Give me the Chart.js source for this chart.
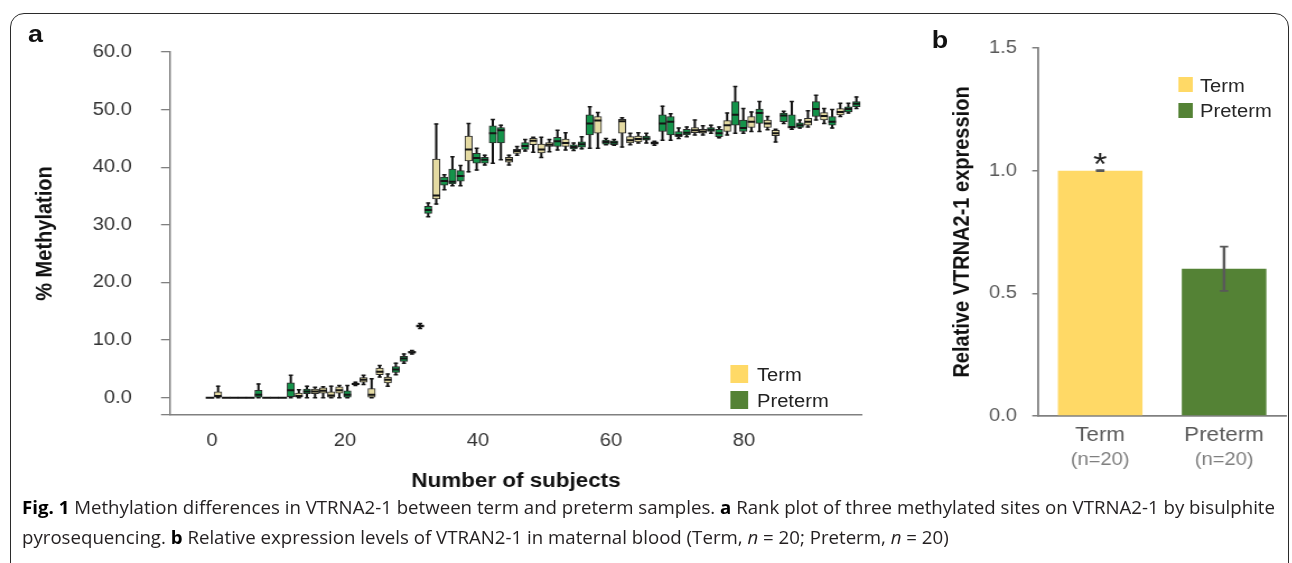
<!DOCTYPE html>
<html>
<head>
<meta charset="utf-8">
<script src="https://cdn.jsdelivr.net/npm/chart.js@4.4.1/dist/chart.umd.min.js"></script>
<style>
html,body{margin:0;padding:0;background:#fff;}
body{width:1292px;height:563px;overflow:hidden;position:relative;}
#frame{position:absolute;left:10px;top:13px;width:1279px;height:620px;border:1.5px solid #2b2b2b;border-radius:14px;box-sizing:border-box;}
#stage{position:absolute;left:0;top:0;width:1154px;height:500px;transform:scaleX(1.12);transform-origin:0 0;font-family:"Liberation Sans",Arial,sans-serif;}
#stage canvas{position:absolute;top:0;}
#ca{left:0;}
#cb{left:800px;}
.plabel{position:absolute;font-weight:bold;font-size:24px;line-height:24px;color:#111;}
.sw{position:absolute;}
.lt{position:absolute;font-size:18px;line-height:18px;white-space:nowrap;color:#222;}
#caption{position:absolute;left:22px;top:492px;font-family:"Open Sans",sans-serif;font-size:18px;line-height:30px;color:#231f20;white-space:nowrap;transform-origin:0 0;}
#caption b{color:#000;}
#caption span{display:inline-block;}
</style>
</head>
<body>
<div id="frame"></div>
<div id="stage">
  <canvas id="ca" width="790" height="500"></canvas>
  <canvas id="cb" width="354" height="500"></canvas>
  <div class="plabel" style="left:25px;top:22px;">a</div>
  <div class="plabel" style="left:832px;top:28px;">b</div>
  <div id="legA"></div>
  <div id="legB"></div>
</div>
<div id="caption"><div><span id="cap1"><b>Fig. 1</b> Methylation differences in VTRNA2-1 between term and preterm samples. <b>a</b> Rank plot of three methylated sites on VTRNA2-1 by bisulphite</span></div><div><span id="cap2">pyrosequencing. <b>b</b> Relative expression levels of VTRAN2-1 in maternal blood (Term, <i>n</i> = 20; Preterm, <i>n</i> = 20)</span></div></div>
<script>
// ---------- Panel a data: rank plot, one box per subject ----------
const subjects = [1,2,3,4,5,6,7,8,9,10,11,12,13,14,15,16,17,18,19,20,21,22,23,24,25,26,27,28,29,30,31,32,33,34,35,36,37,38,39,40,41,42,43,44,45,46,47,48,49,50,51,52,53,54,55,56,57,58,59,60,61,62,63,64,65,66,67,68,69,70,71,72,73,74,75,76,77,78,79,80,81];
const group = ['T','T','T','P','T','P','P','T','P','T',
               'P','T','P','T','T','T','T','P','T','T',
               'T','T','T','P','P','T','T','P','T','P',
               'P','P','T','P','P','P','P','T','T','P',
               'T','T','T','P','T','P','P','P','T','P',
               'P','T','T','T','P','P','P','P','P','P',
               'T','T','P','P','T','P','P','T','P','T',
               'T','P','P','P','T','P','T','P','T','P',
               'P'];
const wMin = [0,0,0,0,0,0,0,0,0,0,
              0,0,0,0,0,0,0,0,2.1,2.3,
              0,3.6,2.0,4.0,6.0,7.6,12.0,31.4,33.6,36.1,
              36.8,36.8,39.2,39.5,40.4,40.7,41.3,40.4,42.1,42.8,
              42.6,41.7,42.7,43.0,43.0,42.9,43.2,43.3,43.3,43.9,
              43.8,43.5,43.9,44.2,44.2,43.8,44.7,44.7,45.0,45.3,
              45.6,45.6,45.9,45.1,45.6,45.9,45.9,46.2,46.2,46.5,
              44.4,47.6,46.6,46.8,47.0,48.2,47.6,46.8,48.8,49.4,
              50.2];
const q1 = [0,0,0,0,0,0,0.1,0,0,0,
            0.2,0,0.7,0.7,0.8,0,0.8,0,2.25,2.7,
            0,4.0,2.55,4.4,6.3,7.75,12.25,32.0,34.5,36.9,
            37.1,37.6,41.1,40.7,40.7,44.2,44.2,40.9,42.4,43.1,
            43.9,42.5,43.6,43.6,43.6,43.2,43.5,45.6,45.9,44.0,
            43.9,45.9,44.2,44.4,44.7,44.0,46.2,45.6,45.3,45.6,
            46.0,45.9,46.2,45.3,46.2,47.3,46.2,46.9,47.6,46.9,
            45.5,47.9,46.8,46.9,47.3,48.8,48.2,47.3,49.1,49.6,
            50.5];
const med = [0,0.3,0,0,0,0,0.5,0,0,0,
             1.3,0.3,1.1,1.1,1.2,0.4,1.3,0.5,2.4,3.1,
             0.5,4.5,3.1,4.9,6.8,7.9,12.45,32.6,35.1,37.6,
             37.5,38.5,43.1,41.6,41.3,45.9,46.4,41.3,42.8,43.7,
             44.6,43.1,43.9,44.5,44.2,43.5,44.0,47.6,48.1,44.4,
             44.3,48.0,44.7,44.9,45.0,44.2,47.6,47.9,45.6,46.0,
             46.4,46.2,46.5,45.9,47.3,49.1,46.8,47.9,49.4,47.6,
             45.9,49.0,47.0,47.3,47.9,50.1,48.9,47.9,49.6,50.1,
             51.0];
const q3 = [0,1.0,0,0,0,0,1.3,0,0,0,
            2.6,0.8,1.5,1.5,1.7,1.0,1.9,1.2,2.55,3.5,
            1.6,5.15,3.6,5.4,7.2,8.05,12.65,33.2,41.4,38.3,
            39.7,39.4,45.4,42.4,41.7,47.2,46.9,41.7,43.1,44.3,
            45.0,44.0,44.3,45.2,44.9,43.9,44.4,49.1,48.8,44.7,
            44.6,48.3,45.3,45.4,45.4,44.4,49.1,48.8,46.2,46.6,
            46.9,46.6,46.9,46.6,48.1,51.4,48.2,48.8,50.1,48.2,
            46.4,49.4,49.1,47.7,48.5,51.4,49.5,48.8,50.2,50.5,
            51.4];
const wMax = [0,2.0,0,0,0,0,2.4,0,0,0,
              3.9,1.4,2.0,1.8,1.9,2.0,2.1,2.1,2.7,3.9,
              3.3,5.6,4.1,6.0,7.6,8.2,12.9,33.8,47.5,38.7,
              41.8,40.3,47.6,43.3,42.1,48.3,47.3,42.1,43.6,44.8,
              45.2,45.2,44.8,46.4,46.0,44.2,45.3,50.5,49.5,45.0,
              44.8,48.6,45.9,46.0,45.9,44.5,50.6,49.3,46.8,47.0,
              48.2,47.2,47.3,47.0,49.4,54.0,50.2,49.6,51.4,48.8,
              46.6,49.7,51.4,48.2,49.8,52.5,50.2,50.0,51.1,51.1,
              52.2];
const xTicksA = [0,20,40,60,80];
const yTicksA = [0,10,20,30,40,50,60];
const legendNames = ['Term','Preterm'];

// ---------- Panel b data ----------
const bCats = ['Term','Preterm'];
const bN = ['(n=20)','(n=20)'];
const bVals = [1.0, 0.6];
const bErr = [0.002, 0.09];
const bSig = ['*',''];
const yTicksB = [0, 0.5, 1.0, 1.5];

// ---------- styles / layout ----------
const S = 1.12; // horizontal stretch of the figure
const FONT = '"Liberation Sans", Arial, sans-serif';
Chart.defaults.font.family = FONT;
const TAN = '#E4DAA2', GREEN = '#14934A';
const YEL = '#FFD966', DGREEN = '#548235';

// ---------- build panel a datasets ----------
const whiskerData = [], boxT = [], boxP = [], medData = [], capData = [];
subjects.forEach((s, k) => {
  if (wMax[k] > wMin[k]) {
    whiskerData.push({x: s, y: [wMin[k], wMax[k]]});
    capData.push({x: s, y: wMax[k]});
    capData.push({x: s, y: wMin[k]});
  }
  if (q3[k] > q1[k]) (group[k] === 'T' ? boxT : boxP).push({x: s, y: [q1[k], q3[k]]});
  medData.push({x: s, y: med[k]});
});

new Chart(document.getElementById('ca'), {
  type: 'bar',
  data: {
    datasets: [
      {type:'bar', label:'whisker', data: whiskerData, xAxisID:'x', yAxisID:'y', grouped:false,
       barThickness: 1.5 / S, backgroundColor:'#111', borderWidth:0, order:4},
      {type:'bar', label:'Term', data: boxT, xAxisID:'x', yAxisID:'y', grouped:false,
       barThickness: 7.3 / S, backgroundColor: TAN, borderColor:'#2a2a2a', borderWidth:1, borderSkipped:false, order:3},
      {type:'bar', label:'Preterm', data: boxP, xAxisID:'x', yAxisID:'y', grouped:false,
       barThickness: 7.3 / S, backgroundColor: GREEN, borderColor:'#2a2a2a', borderWidth:1, borderSkipped:false, order:3},
      {type:'scatter', label:'median', data: medData, xAxisID:'x', yAxisID:'y',
       pointStyle:'line', pointRadius: c => (wMax[c.dataIndex] === 0 ? 4.3 / S : 3.7 / S),
       pointBorderWidth:2, pointBorderColor:'#151515', borderColor:'#151515', order:1},
      {type:'scatter', label:'caps', data: capData, xAxisID:'x', yAxisID:'y',
       pointStyle:'line', pointRadius: 2.1 / S, pointBorderWidth:1.5, pointBorderColor:'#151515', borderColor:'#151515', order:2}
    ]
  },
  options: {
    responsive:false, animation:false, devicePixelRatio:1, events:[],
    layout:{padding:{left:0, right:790 - 862 / S, top:52, bottom:0}},
    plugins:{legend:{display:false}, tooltip:{enabled:false}},
    scales:{
      x:{type:'linear', display:false, min:-3.95, max:81.69, offset:false},
      xt:{type:'linear', position:'bottom', min:-6.32, max:97.74, offset:false,
          afterFit: s => { s.height = 85; },
          afterBuildTicks: s => { s.ticks = xTicksA.map(v => ({value:v})); },
          ticks:{font:{size:18}, color:'#333', padding:15, maxRotation:0, autoSkip:false, callback: v => String(v)},
          grid:{display:false, drawTicks:false},
          border:{display:true, color:'#808080', width:1.5},
          title:{display:true, text:'Number of subjects', color:'#111',
                 font:{size:20, weight:'bold', lineHeight:1.2}, padding:{top:0, bottom:7}}},
      y:{min:-3, max:60,
         afterFit: s => { s.width = 170 / S; },
         afterBuildTicks: s => { s.ticks = [-3].concat(yTicksA).map(v => ({value:v})); },
         ticks:{font:{size:18}, color:'#333', padding: 170 / S - 9 / S - 132 / S, autoSkip:false,
                callback: v => (yTicksA.includes(v) ? v.toFixed(1) : '')},
         grid:{display:true, drawOnChartArea:false, drawTicks:true, tickLength: 9 / S, color:'#808080', lineWidth:1.3},
         border:{display:true, color:'#808080', width:1.5},
         title:{display:true, text:'% Methylation', color:'#111',
                font:{size:20, weight:'bold', lineHeight:1.2}, padding:{top: 45 / S - 12, bottom:0}}}
    }
  }
});

// ---------- panel b ----------
const starPlugin = {
  id:'sig',
  afterDatasetsDraw(chart) {
    const {ctx, scales:{x, y}} = chart;
    ctx.save();
    ctx.font = '32px ' + FONT;
    ctx.fillStyle = '#222';
    ctx.textAlign = 'center';
    ctx.textBaseline = 'alphabetic';
    bSig.forEach((t, i) => {
      if (!t) return;
      ctx.fillText(t, x.getPixelForValue(i), y.getPixelForValue(bVals[i] + bErr[i]) + 5);
    });
    ctx.restore();
  }
};

new Chart(document.getElementById('cb'), {
  type:'bar',
  data:{
    labels: bCats,
    datasets:[
      {label:'expression', data: bVals, backgroundColor:[YEL, DGREEN], borderWidth:0,
       barPercentage: 85 / 124.5, categoryPercentage:1, grouped:false, order:3},
      {label:'err', data: bVals.map((v, i) => [v - bErr[i], v + bErr[i]]), backgroundColor:'#595959',
       barThickness: 2 / S, grouped:false, order:2},
      {type:'line', label:'errTop', data: bVals.map((v, i) => v + bErr[i]), showLine:false,
       pointStyle:'line', pointRadius: 4.2 / S, pointBorderWidth:1.8, pointBorderColor:'#595959', borderColor:'#595959', order:1},
      {type:'line', label:'errBot', data: bVals.map((v, i) => v - bErr[i]), showLine:false,
       pointStyle:'line', pointRadius: 4.2 / S, pointBorderWidth:1.8, pointBorderColor:'#595959', borderColor:'#595959', order:1}
    ]
  },
  options:{
    responsive:false, animation:false, devicePixelRatio:1, events:[],
    layout:{padding:{left:0, right: 354 - (1287.25 / S - 800), top:48, bottom:22}},
    plugins:{legend:{display:false}, tooltip:{enabled:false}},
    scales:{
      x:{type:'category', weight:0,
         afterFit: s => { s.height = 32; },
         ticks:{font:{size:20}, color:'#595959', padding:7, maxRotation:0, autoSkip:false},
         grid:{display:false, drawTicks:false},
         border:{display:true, color:'#808080', width:1.8}},
      x2:{type:'category', labels: bN, position:'bottom', weight:1,
          afterFit: s => { s.height = 30; },
          ticks:{font:{size:18}, color:'#7f7f7f', padding:1.2, maxRotation:0, autoSkip:false},
          grid:{display:false, drawTicks:false},
          border:{display:false}},
      y:{min:0, max:1.5,
         afterFit: s => { s.width = 1038.25 / S - 800; },
         afterBuildTicks: s => { s.ticks = yTicksB.map(v => ({value:v})); },
         ticks:{font:{size:18}, color:'#595959', padding: (1038.25 - 6 - 1017) / S, callback: v => v.toFixed(1)},
         grid:{display:true, drawOnChartArea:false, drawTicks:true, tickLength: 6 / S, color:'#808080', lineWidth:1.5},
         border:{display:true, color:'#808080', width:1.8},
         title:{display:true, text:'Relative VTRNA2-1 expression', color:'#111',
                font:{size:20, weight:'bold', lineHeight:1.2}, padding:{top: (963 / S - 800) - 12, bottom:0}}}
    }
  },
  plugins:[starPlugin]
});

// ---------- HTML legends (inside plot areas) ----------
function buildLegend(el, names, colors, box) {
  names.forEach((n, k) => {
    const sw = document.createElement('div');
    sw.className = 'sw';
    const top = box.y + k * box.dy;
    sw.style.cssText = `left:${box.x}px;top:${top}px;width:${box.w}px;height:${box.h}px;background:${colors[k]};`;
    el.appendChild(sw);
    const t = document.createElement('div');
    t.className = 'lt';
    t.textContent = n;
    t.style.left = box.tx + 'px';
    t.style.top = (top + box.h / 2 - 8) + 'px';
    t.style.color = box.color;
    el.appendChild(t);
  });
}
buildLegend(document.getElementById('legA'), legendNames, [YEL, DGREEN],
  {x: 730 / S, y: 365, dy: 26, w: 18 / S, h: 18, tx: 757 / S, color:'#222'});
buildLegend(document.getElementById('legB'), legendNames, [YEL, DGREEN],
  {x: 1178 / S, y: 77, dy: 25.5, w: 15 / S, h: 15, tx: 1200 / S, color:'#262626'});

// ---------- caption fit ----------
const cap = document.getElementById('caption');
const w1 = document.getElementById('cap1').getBoundingClientRect().width;
cap.style.transform = `scaleX(${(1275 - 22) / w1})`;
</script>
</body>
</html>
